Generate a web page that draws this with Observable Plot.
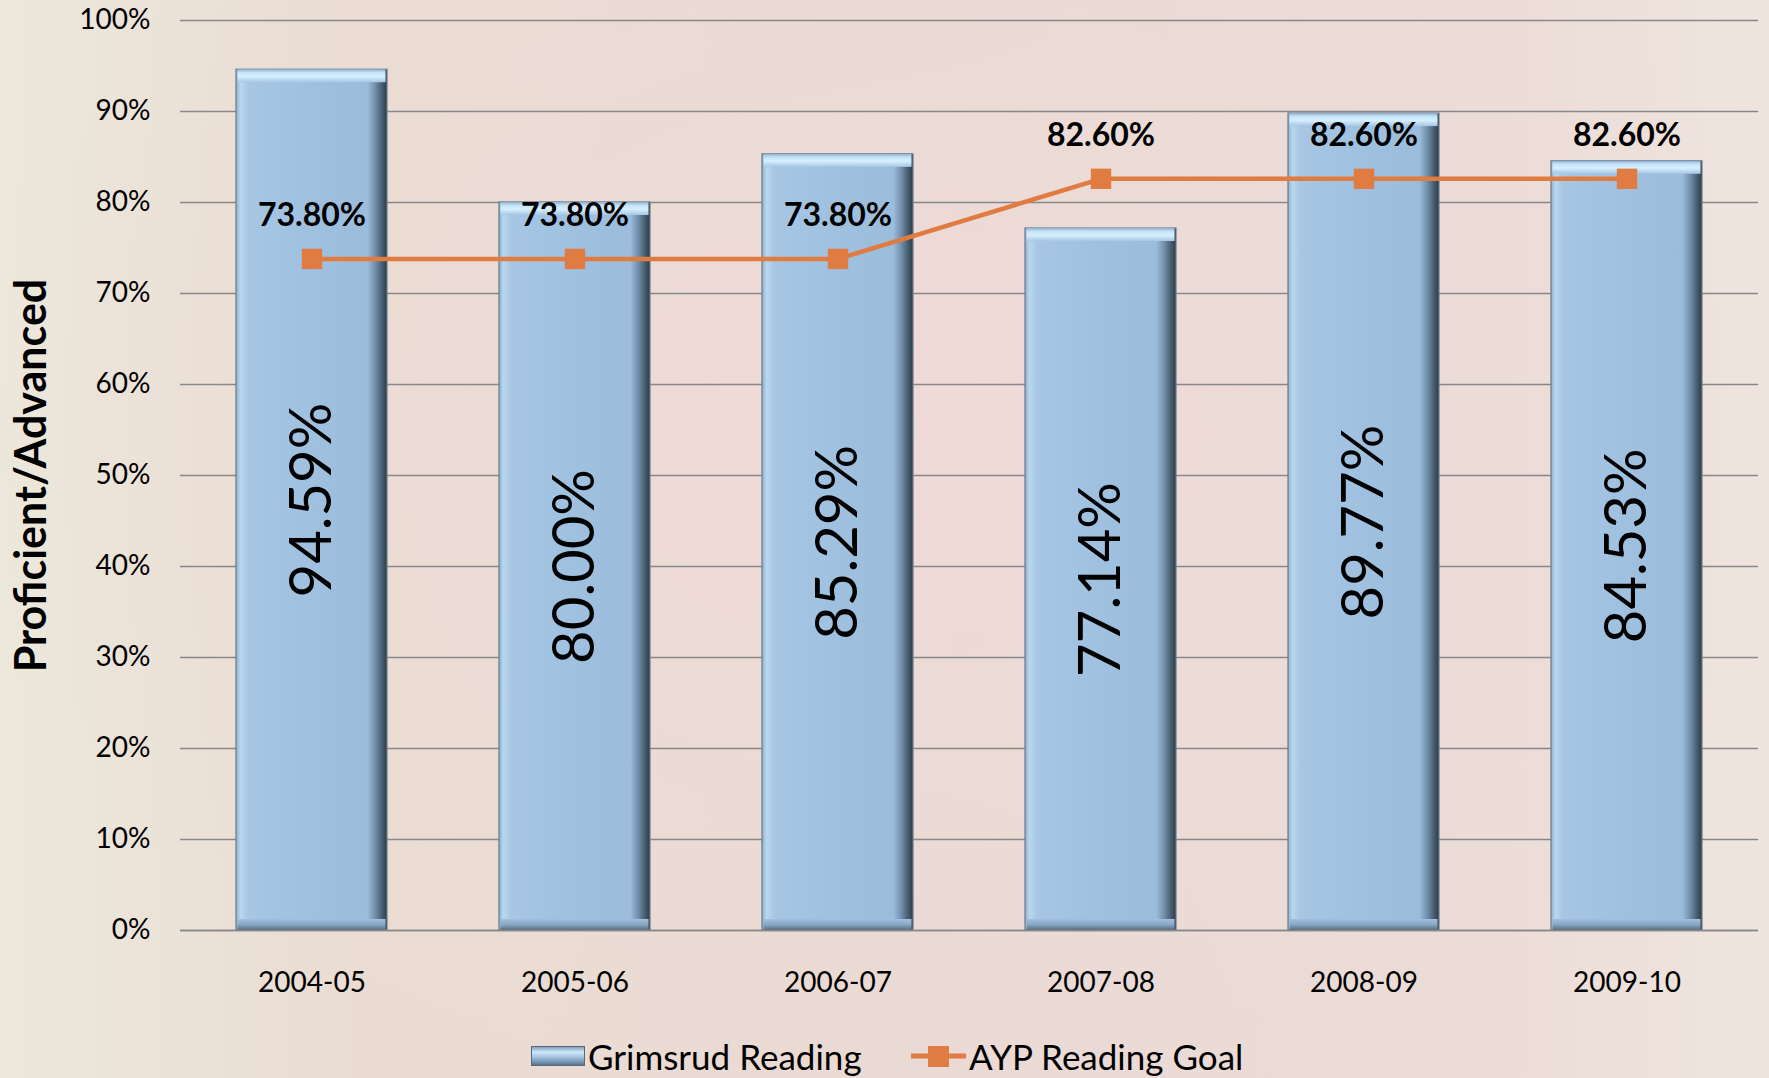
<!DOCTYPE html>
<html>
<head>
<meta charset="utf-8">
<script src="https://cdn.jsdelivr.net/npm/d3@7"></script>
<script src="https://cdn.jsdelivr.net/npm/@observablehq/plot@0.6"></script>
<style>
  html, body { margin: 0; padding: 0; }
  body {
    width: 1769px; height: 1078px; overflow: hidden; position: relative;
    font-family: Lato, "Open Sans", sans-serif;
    background:
      radial-gradient(ellipse at 50% 40%, rgba(240,218,216,0.9) 0%, rgba(236,220,214,0.4) 45%, rgba(0,0,0,0) 75%),
      linear-gradient(90deg, #ece8dc 0%, #eadcd3 20%, #ead9d4 55%, #ecdcd8 85%, #efe5df 100%);
  }
  #legend { position: absolute; left: 0; top: 1034px; width: 1769px; height: 44px; font-size: 35px; color: #000; }
  #legend .item { position: absolute; top: 0; height: 44px; display: flex; align-items: center; white-space: nowrap; }
</style>
</head>
<body>
<div id="chart"></div>
<div id="legend">
  <div class="item" style="left:531px">
    <svg width="54" height="22" style="margin-right:3px">
      <defs>
        <linearGradient id="lgBar" x1="0" y1="0" x2="0" y2="1">
          <stop offset="0" stop-color="#7c9ab6"/>
          <stop offset="0.3" stop-color="#cfe9fb"/>
          <stop offset="0.55" stop-color="#a3c3e1"/>
          <stop offset="1" stop-color="#56708a"/>
        </linearGradient>
      </defs>
      <rect x="0.5" y="1.5" width="53" height="19" fill="url(#lgBar)" stroke="#56687a"/>
    </svg>
    <span>Grimsrud Reading</span>
  </div>
  <div class="item" style="left:911px">
    <svg width="55" height="22" style="margin-right:3px">
      <line x1="0" y1="11" x2="55" y2="11" stroke="#e07b42" stroke-width="5"/>
      <rect x="17" y="1" width="21" height="21" fill="#e07b42"/>
    </svg>
    <span>AYP Reading Goal</span>
  </div>
</div>
<script>
const years = ["2004-05", "2005-06", "2006-07", "2007-08", "2008-09", "2009-10"];
const readingPct = [94.59, 80.00, 85.29, 77.14, 89.77, 84.53];
const goalPct = [73.80, 73.80, 73.80, 82.60, 82.60, 82.60];
const yTicks = [0, 10, 20, 30, 40, 50, 60, 70, 80, 90, 100];
const yTitle = "Proficient/Advanced";

const data = years.map((y, i) => ({year: y, reading: readingPct[i] / 100, goal: goalPct[i] / 100}));

const orange = "#e07b42";
const font = "Lato, 'Open Sans', sans-serif";

const svg = Plot.plot({
  width: 1769,
  height: 1034,
  marginLeft: 180,
  marginRight: 11,
  marginTop: 20,
  marginBottom: 104,
  style: {background: "transparent", fontFamily: font, color: "#000"},
  x: {domain: years, paddingInner: 0.427, paddingOuter: 0.2135, label: null},
  y: {domain: [0, 1], label: null},
  marks: [
    Plot.gridY(yTicks.map(t => t / 100), {stroke: "#888", strokeOpacity: 1, strokeWidth: 1.6}),
    Plot.axisY(yTicks.map(t => t / 100), {
      tickSize: 0, tickPadding: 30, fontSize: 28, tickFormat: d3.format(".0%"), label: null
    }),
    Plot.axisX({tickSize: 0, tickPadding: 42, fontSize: 28, label: null}),
    // bar body with horizontal bevel gradient
    Plot.barY(data, {x: "year", y: "reading", fill: "url(#barH)", stroke: "#6a7b89", strokeWidth: 1.2}),
    // top bevel highlight
    Plot.rect(data, {x: "year", y1: "reading", y2: "reading", insetBottom: -13, insetLeft: 1.5, insetRight: 1.5, fill: "url(#barTop)"}),
    // bottom bevel shadow
    Plot.rect(data, {x: "year", y1: 0, y2: 0, insetTop: -11, insetLeft: 1.5, insetRight: 1.5, fill: "url(#barBottom)"}),
    Plot.ruleY([0], {stroke: "#888", strokeWidth: 1.6}),
    Plot.text(data, {
      x: "year", y: d => d.reading / 2, text: d => d3.format(".2f")(d.reading * 100) + "%",
      rotate: -90, fontSize: 58, fill: "#000", fontFamily: font
    }),
    Plot.line(data, {x: "year", y: "goal", stroke: orange, strokeWidth: 4.5}),
    Plot.dot(data, {x: "year", y: "goal", symbol: "square", r: 11.5, fill: orange, stroke: "none"}),
    Plot.text(data, {
      x: "year", y: "goal", dy: -43, text: d => d3.format(".2f")(d.goal * 100) + "%",
      fontSize: 32, fontWeight: "bold", fill: "#000", fontFamily: font
    }),
    Plot.text([yTitle], {
      frameAnchor: "left", textAnchor: "middle", dx: -148, rotate: -90, fontSize: 43, fontWeight: "bold", fill: "#000", fontFamily: font
    })
  ]
});

const defs = `
<defs>
  <linearGradient id="barH" x1="0" y1="0" x2="1" y2="0">
    <stop offset="0" stop-color="#8fb0cd"/>
    <stop offset="0.03" stop-color="#b9d7ef"/>
    <stop offset="0.08" stop-color="#a6c6e4"/>
    <stop offset="0.5" stop-color="#a0c0e0"/>
    <stop offset="0.87" stop-color="#9cbcdb"/>
    <stop offset="0.92" stop-color="#7391ad"/>
    <stop offset="0.97" stop-color="#445a6d"/>
    <stop offset="1" stop-color="#2c3a47"/>
  </linearGradient>
  <linearGradient id="barTop" x1="0" y1="0" x2="0" y2="1">
    <stop offset="0" stop-color="#8eb0cc"/>
    <stop offset="0.25" stop-color="#c4e2f8"/>
    <stop offset="0.55" stop-color="#d6f0ff"/>
    <stop offset="1" stop-color="#a6c6e4"/>
  </linearGradient>
  <linearGradient id="barBottom" x1="0" y1="0" x2="0" y2="1">
    <stop offset="0" stop-color="#a0c0de"/>
    <stop offset="0.5" stop-color="#8aa8c4"/>
    <stop offset="1" stop-color="#566d82"/>
  </linearGradient>
</defs>`;
svg.insertAdjacentHTML("afterbegin", defs);
document.getElementById("chart").appendChild(svg);
</script>
</body>
</html>
